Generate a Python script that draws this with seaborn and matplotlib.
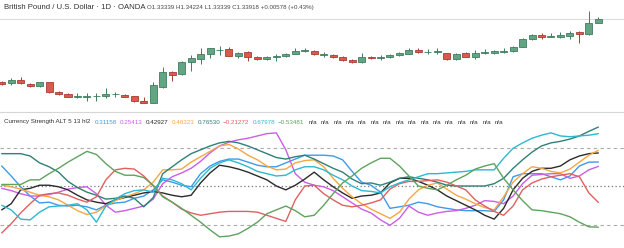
import matplotlib
matplotlib.use("Agg")
import matplotlib.pyplot as plt
from matplotlib.lines import Line2D
import seaborn as sns
import pandas as pd
import numpy as np

# ---------------- data ----------------
opens = [1.2483, 1.2464, 1.2512, 1.2458, 1.2421, 1.2479, 1.2338, 1.2309, 1.2265, 1.2270,
         1.2273, 1.2276, 1.2302, 1.2299, 1.2276, 1.2207, 1.2183, 1.2415, 1.2632, 1.2595,
         1.2777, 1.2817, 1.2889, 1.2943, 1.2957, 1.2864, 1.2914, 1.2845, 1.2817, 1.2841,
         1.2860, 1.2889, 1.2932, 1.2937, 1.2870, 1.2875, 1.2845, 1.2806, 1.2769, 1.2850,
         1.2831, 1.2841, 1.2870, 1.2893, 1.2951, 1.2914, 1.2914, 1.2899, 1.2817, 1.2899,
         1.2850, 1.2908, 1.2899, 1.2922, 1.2932, 1.2995, 1.3102, 1.3169, 1.3135, 1.3135,
         1.3154, 1.3204, 1.3175, 1.33339]
highs = [1.2498, 1.2537, 1.2560, 1.2473, 1.2487, 1.2487, 1.2353, 1.2319, 1.2319, 1.2328,
         1.2319, 1.2392, 1.2342, 1.2309, 1.2284, 1.2270, 1.2479, 1.2696, 1.2643, 1.2788,
         1.2875, 1.2972, 1.2980, 1.3005, 1.2986, 1.2922, 1.2937, 1.2856, 1.2856, 1.2885,
         1.2904, 1.2972, 1.2972, 1.2947, 1.2914, 1.2889, 1.2860, 1.2817, 1.2908, 1.2864,
         1.2875, 1.2885, 1.2922, 1.2980, 1.2972, 1.2962, 1.2972, 1.2908, 1.2904, 1.2922,
         1.2947, 1.2962, 1.2947, 1.2972, 1.3005, 1.3117, 1.3175, 1.3189, 1.3189, 1.3204,
         1.3218, 1.3227, 1.3517, 1.34224]
lows = [1.2440, 1.2440, 1.2450, 1.2406, 1.2410, 1.2328, 1.2299, 1.2261, 1.2251, 1.2207,
        1.2212, 1.2255, 1.2261, 1.2261, 1.2197, 1.2178, 1.2178, 1.2392, 1.2502, 1.2585,
        1.2647, 1.2740, 1.2835, 1.2875, 1.2856, 1.2835, 1.2788, 1.2806, 1.2806, 1.2792,
        1.2845, 1.2885, 1.2922, 1.2875, 1.2845, 1.2835, 1.2788, 1.2759, 1.2759, 1.2817,
        1.2806, 1.2827, 1.2856, 1.2885, 1.2899, 1.2885, 1.2885, 1.2806, 1.2806, 1.2841,
        1.2812, 1.2889, 1.2885, 1.2899, 1.2922, 1.2986, 1.3092, 1.3102, 1.3131, 1.3125,
        1.3102, 1.3044, 1.3165, 1.33339]
closes = [1.2454, 1.2512, 1.2464, 1.2421, 1.2479, 1.2334, 1.2309, 1.2270, 1.2280, 1.2284,
          1.2283, 1.2313, 1.2316, 1.2270, 1.2207, 1.2183, 1.2440, 1.2632, 1.2585, 1.2777,
          1.2827, 1.2885, 1.2972, 1.2954, 1.2864, 1.2908, 1.2845, 1.2817, 1.2845, 1.2860,
          1.2889, 1.2937, 1.2943, 1.2885, 1.2882, 1.2845, 1.2802, 1.2769, 1.2850, 1.2827,
          1.2841, 1.2875, 1.2904, 1.2951, 1.2918, 1.2925, 1.2928, 1.2817, 1.2893, 1.2850,
          1.2908, 1.2925, 1.2932, 1.2937, 1.2995, 1.3102, 1.3160, 1.3140, 1.3146, 1.3165,
          1.3198, 1.3175, 1.3334, 1.33918]

s_blue = [0.26, 0.13, -0.01, -0.13, -0.22, -0.21, -0.25, -0.26, -0.25, -0.27,
          -0.31, -0.25, -0.22, -0.21, -0.16, -0.13, -0.05, 0.08, 0.05, 0.01,
          -0.01, 0.16, 0.26, 0.32, 0.35, 0.35, 0.31, 0.27, 0.25, 0.25,
          0.30, 0.35, 0.40, 0.40, 0.40, 0.39, 0.34, 0.19, 0.05, 0.01,
          -0.08, -0.29, -0.27, -0.25, -0.21, -0.23, -0.27, -0.29, -0.31, -0.32,
          -0.32, -0.32, -0.33, -0.18, 0.12, 0.16, 0.16, 0.16, 0.12, 0.08,
          0.13, 0.26, 0.31, 0.31158]
s_magenta = [-0.03, -0.06, -0.10, -0.13, -0.13, -0.11, -0.08, -0.04, -0.02, -0.01,
             -0.10, -0.25, -0.34, -0.32, -0.29, -0.26, -0.17, 0.03, 0.12, 0.17,
             0.23, 0.32, 0.43, 0.52, 0.57, 0.60, 0.62, 0.65, 0.68, 0.69,
             0.47, 0.16, 0.05, 0.01, -0.01, -0.06, -0.14, -0.22, -0.30, -0.35,
             -0.44, -0.51, -0.42, -0.26, -0.34, -0.38, -0.35, -0.33, -0.32, -0.29,
             -0.25, -0.19, -0.20, -0.23, -0.13, 0.03, 0.14, 0.15, 0.16, 0.16,
             0.10, 0.13, 0.21, 0.25413]
s_black = [-0.31, -0.23, -0.05, -0.03, 0.01, 0.01, -0.01, -0.05, -0.12, -0.18,
           -0.21, -0.23, -0.18, -0.15, -0.12, -0.09, -0.07, -0.09, -0.12, -0.14,
           -0.12, 0.04, 0.17, 0.27, 0.25, 0.22, 0.18, 0.13, 0.08, 0.00,
           -0.05, 0.01, 0.09, 0.18, 0.08, -0.01, -0.09, -0.16, -0.13, -0.12,
           -0.09, 0.04, 0.10, 0.10, 0.06, 0.01, -0.05, -0.13, -0.19, -0.25,
           -0.31, -0.38, -0.43, -0.29, -0.05, 0.10, 0.19, 0.23, 0.23, 0.26,
           0.34, 0.39, 0.42, 0.42927]
s_orange = [0.01, -0.01, -0.04, -0.08, -0.12, -0.14, -0.18, -0.25, -0.32, -0.37,
            -0.34, -0.26, -0.19, -0.14, -0.10, -0.05, 0.05, 0.21, 0.21, 0.22,
            0.31, 0.38, 0.45, 0.52, 0.54, 0.48, 0.40, 0.34, 0.26, 0.21,
            0.22, 0.30, 0.33, 0.34, 0.25, 0.10, -0.03, -0.14, -0.23, -0.30,
            -0.36, -0.42, -0.34, -0.17, -0.05, 0.01, 0.04, -0.04, -0.12, -0.17,
            -0.23, -0.28, -0.31, -0.14, 0.05, 0.16, 0.25, 0.23, 0.19, 0.17,
            0.22, 0.31, 0.40, 0.46323]
s_teal = [0.42, 0.42, 0.42, 0.39, 0.30, 0.25, 0.18, 0.06, -0.02, -0.08,
          -0.12, -0.17, -0.16, -0.13, -0.16, -0.27, -0.15, 0.16, 0.25, 0.34,
          0.42, 0.47, 0.52, 0.56, 0.58, 0.56, 0.52, 0.47, 0.42, 0.37,
          0.35, 0.38, 0.40, 0.35, 0.29, 0.23, 0.18, 0.09, 0.03, 0.04,
          0.01, 0.05, 0.10, 0.12, 0.10, 0.08, 0.05, 0.01, 0.00, 0.00,
          0.00, 0.00, 0.03, 0.10, 0.23, 0.34, 0.44, 0.52, 0.56, 0.58,
          0.61, 0.65, 0.71, 0.76530]
s_red = [-0.61, -0.49, -0.35, -0.23, -0.12, -0.10, -0.09, -0.12, -0.17, -0.21,
         -0.14, 0.08, 0.21, 0.23, 0.22, 0.13, 0.00, -0.13, -0.21, -0.30,
         -0.35, -0.38, -0.36, -0.34, -0.33, -0.33, -0.33, -0.34, -0.38, -0.42,
         -0.46, -0.18, 0.00, 0.01, -0.10, -0.18, -0.25, -0.27, -0.25, -0.22,
         -0.18, -0.04, 0.03, 0.06, 0.06, 0.07, 0.08, 0.05, 0.00, -0.05,
         -0.18, -0.26, -0.33, -0.38, -0.26, -0.05, 0.04, 0.09, 0.12, 0.14,
         0.16, 0.12, -0.09, -0.21272]
s_cyan = [-0.25, -0.31, -0.43, -0.44, -0.34, -0.27, -0.26, -0.25, -0.23, -0.31,
          -0.47, -0.26, -0.17, -0.10, -0.06, -0.05, -0.08, 0.10, 0.08, 0.03,
          -0.05, 0.10, 0.23, 0.30, 0.34, 0.30, 0.25, 0.19, 0.16, 0.13,
          0.14, 0.21, 0.25, 0.25, 0.21, 0.14, 0.08, 0.00, -0.06, -0.07,
          -0.09, -0.01, 0.04, 0.08, 0.12, 0.16, 0.16, 0.17, 0.18, 0.19,
          0.21, 0.21, 0.21, 0.36, 0.49, 0.56, 0.62, 0.66, 0.69, 0.65,
          0.64, 0.65, 0.66, 0.67978]
s_green = [0.02, 0.02, 0.02, 0.08, 0.08, 0.16, 0.23, 0.31, 0.38, 0.45,
           0.41, 0.29, 0.19, 0.14, 0.14, 0.11, 0.01, -0.14, -0.21, -0.29,
           -0.38, -0.47, -0.57, -0.66, -0.65, -0.62, -0.55, -0.47, -0.36, -0.31,
           -0.26, -0.32, -0.40, -0.38, -0.25, -0.10, 0.04, 0.13, 0.23, 0.30,
           0.36, 0.36, 0.26, 0.13, 0.00, -0.03, -0.05, 0.01, 0.08, 0.14,
           0.22, 0.26, 0.29, 0.10, -0.05, -0.19, -0.31, -0.32, -0.34, -0.36,
           -0.40, -0.47, -0.53, -0.53481]

series_names = ["blue", "magenta", "black", "orange", "teal", "red", "cyan", "green"]
series_values = [s_blue, s_magenta, s_black, s_orange, s_teal, s_red, s_cyan, s_green]
series_colors = ["#3d9be9", "#cc5de8", "#2b2b2b", "#f5a742", "#2f8077", "#e06060", "#2cb9d0", "#5fa35f"]
legend_labels = ["0.31158", "0.25413", "0.42927", "0.46323", "0.76530", "\u22120.21272", "0.67978", "\u22120.53481"]
title_text = "British Pound / U.S. Dollar \u00b7 1D \u00b7 OANDA"
ohlc_text = "O1.33339 H1.34224 L1.33339 C1.33918 +0.00578 (+0.43%)"
ind_text = "Currency Strength ALT 5 13 hl2"
na_count = 16
levels = [0.5, 0.0, -0.5]

# ---------------- figure ----------------
sns.set_theme(style="white")
plt.rcParams['font.family'] = ['Liberation Sans', 'DejaVu Sans']

W, H = 624, 248
fig = plt.figure(figsize=(W / 100, H / 100), dpi=100)
fig.patch.set_facecolor("white")
ax1 = fig.add_axes([0, 138 / H, 1, 110 / H])
ax2 = fig.add_axes([0, 0, 1, 138 / H])

n = len(closes)
idx = np.arange(n)
o = np.array(opens); c = np.array(closes); hi = np.array(highs); lo = np.array(lows)
up = c >= o
body_lo = np.minimum(o, c)
body_h = np.maximum(np.abs(c - o), 0.0011)

up_fill, up_edge = "#62a583", "#3f7d5e"
dn_fill, dn_edge = "#d95a4e", "#a83c32"

ax1.axhline(closes[-1], color="#dcdcdc", lw=0.8, zorder=0)
ax1.vlines(idx[up], lo[up], hi[up], color=up_edge, lw=0.7, zorder=1)
ax1.vlines(idx[~up], lo[~up], hi[~up], color=dn_edge, lw=0.7, zorder=1)
ax1.bar(idx[up], body_h[up], bottom=body_lo[up], width=0.74, color=up_fill,
        edgecolor=up_edge, linewidth=0.6, zorder=2)
ax1.bar(idx[~up], body_h[~up], bottom=body_lo[~up], width=0.74, color=dn_fill,
        edgecolor=dn_edge, linewidth=0.6, zorder=2)

xlim = (-0.18, 65.71)
ax1.set_xlim(*xlim)
ax1.set_ylim(1.2077, 1.3672)

rows = []
for name, vals in zip(series_names, series_values):
    for i, v in enumerate(vals):
        rows.append({"bar": i, "value": v, "series": name})
df = pd.DataFrame(rows)
palette = dict(zip(series_names, series_colors))

for lv in levels:
    if lv == 0:
        ax2.axhline(lv, color="#777777", lw=0.9, ls=(0, (1, 2)), zorder=0)
    else:
        ax2.axhline(lv, color="#aaaaaa", lw=0.8, ls=(0, (3, 3)), zorder=0)

sns.lineplot(data=df, x="bar", y="value", hue="series", palette=palette,
             hue_order=series_names, ax=ax2, linewidth=1.0, legend=False,
             estimator=None, sort=False)
ax2.set_xlim(*xlim)
ax2.set_ylim(-0.805, 0.987)

for ax in (ax1, ax2):
    ax.set_axis_off()

fig.add_artist(Line2D([0, 1], [1 - 112 / H, 1 - 112 / H], color="#d6d6d6", lw=0.8,
                      transform=fig.transFigure))

# header texts
fig.text(4 / W, 1 - 7.5 / H, title_text, fontsize=5.6, color="#333333", va="center", ha="left")
fig.text(147 / W, 1 - 7.5 / H, ohlc_text, fontsize=4.4, color="#444444", va="center", ha="left")

# indicator legend line, laid out left to right
renderer = fig.canvas.get_renderer()
fs = 4.5
ypos = 1 - 122 / H
t = fig.text(4 / W, ypos, ind_text, fontsize=fs, color="#333333", va="center", ha="left")
xcur = t.get_window_extent(renderer).x1 + 4.5
for lab, col in zip(legend_labels, series_colors):
    t = fig.text(xcur / W, ypos, lab, fontsize=fs, color=col, va="center", ha="left")
    xcur = t.get_window_extent(renderer).x1 + 3
xcur += 1
for k in range(na_count):
    t = fig.text(xcur / W, ypos, "n/a", fontsize=fs, color="#333333", va="center", ha="left")
    xcur = t.get_window_extent(renderer).x1 + 3.8

fig.savefig("out.png", dpi=100, facecolor="white")
